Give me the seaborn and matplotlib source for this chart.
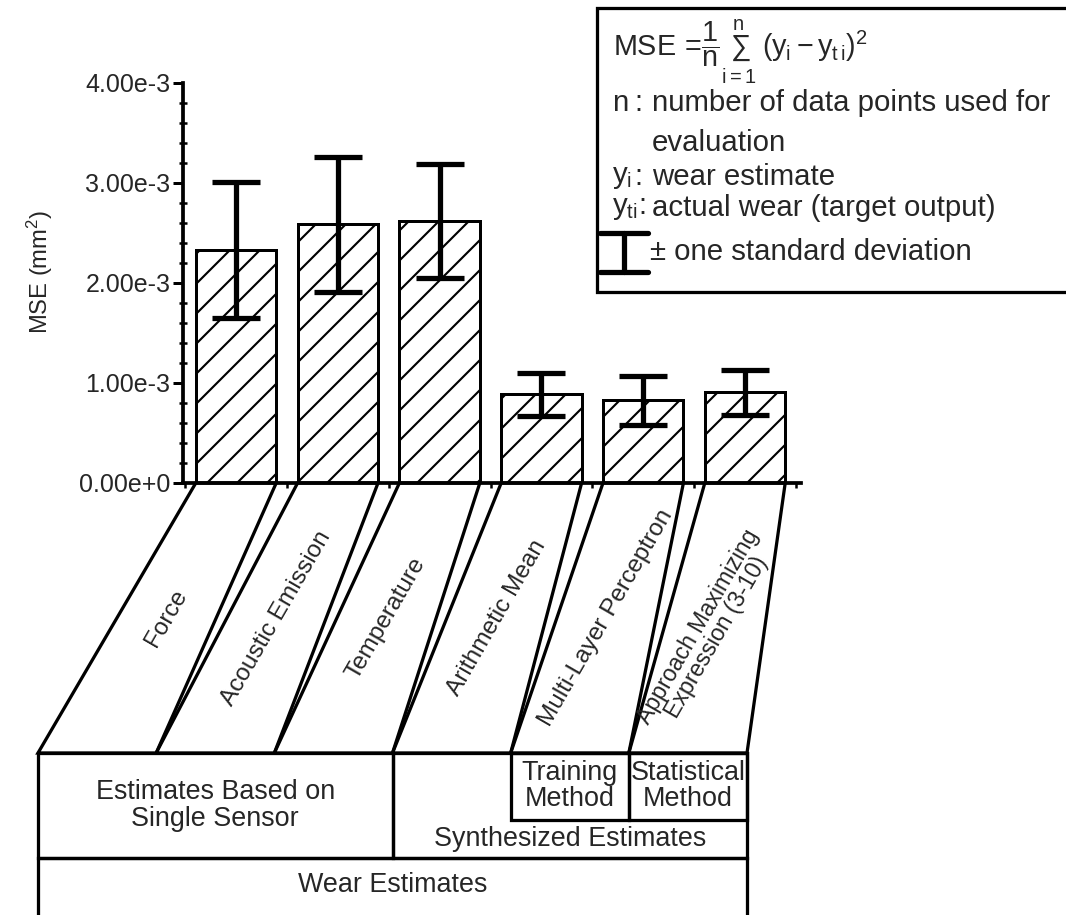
import matplotlib
matplotlib.use("Agg")
import matplotlib.pyplot as plt
import numpy as np
import pandas as pd
import seaborn as sns
from matplotlib.patches import Polygon, Rectangle
from matplotlib.lines import Line2D
from matplotlib.transforms import blended_transform_factory
from matplotlib.ticker import MultipleLocator, FixedLocator

# ---- data -------------------------------------------------------------
categories = [
    "Force",
    "Acoustic Emission",
    "Temperature",
    "Arithmetic Mean",
    "Multi-Layer Perceptron",
    "Approach Maximizing\nExpression (3-10)",
]
mse_mean = [2.33e-3, 2.59e-3, 2.62e-3, 0.89e-3, 0.83e-3, 0.91e-3]
mse_std = [0.68e-3, 0.675e-3, 0.57e-3, 0.215e-3, 0.245e-3, 0.225e-3]

ytick_values = [0.0, 1e-3, 2e-3, 3e-3, 4e-3]
ytick_labels = ["0.00e+0", "1.00e-3", "2.00e-3", "3.00e-3", "4.00e-3"]

group_single = "Estimates Based on\nSingle Sensor"
group_synth = "Synthesized Estimates"
group_training = "Training\nMethod"
group_statistical = "Statistical\nMethod"
group_all = "Wear Estimates"

# ---- style ------------------------------------------------------------
DPI = 90
W, H = 1066, 915
sns.set_theme(style="white")
plt.rcParams["font.family"] = ["Liberation Sans", "DejaVu Sans"]
plt.rcParams["mathtext.fontset"] = "custom"
plt.rcParams["mathtext.rm"] = "Liberation Sans"
plt.rcParams["mathtext.it"] = "Liberation Sans"
plt.rcParams["mathtext.bf"] = "Liberation Sans:bold"
plt.rcParams["hatch.linewidth"] = 1.7
plt.rcParams["hatch.color"] = "black"

fig = plt.figure(figsize=(W / DPI, H / DPI), dpi=DPI)
fig.patch.set_facecolor("white")

# axes in pixels: bar pitch 101.8 px, zero line at y=483, 4e-3 at y=83
PITCH = 101.8
X0 = 236.0
xlim = (-0.52, 5.55)
ax = fig.add_axes([(X0 + xlim[0] * PITCH) / W, 1 - 483 / H,
                   (xlim[1] - xlim[0]) * PITCH / W, 400 / H])

df = pd.DataFrame({"estimate": categories, "mse": mse_mean})
sns.barplot(
    data=df, x="estimate", y="mse", order=categories, ax=ax,
    color="white", saturation=1, width=0.79, errorbar=None,
    edgecolor="black", linewidth=2.4, hatch="/",
)
ax.errorbar(
    np.arange(len(categories)), mse_mean, yerr=mse_std, fmt="none",
    ecolor="black", elinewidth=4.2, capsize=19, capthick=4.2, zorder=5,
)

ax.set_xlim(*xlim)
ax.set_ylim(0, 4e-3)
ax.set_xlabel("")
ax.set_xticks([])
ax.xaxis.set_minor_locator(FixedLocator(np.arange(-0.5, 6.0, 1.0)))
ax.tick_params(axis="x", which="minor", bottom=True, direction="out",
               length=4, width=2, color="black")

ax.set_yticks(ytick_values)
ax.set_yticklabels(ytick_labels)
ax.yaxis.set_minor_locator(MultipleLocator(2e-4))
ax.tick_params(axis="y", which="major", left=True, direction="out",
               length=8, width=2.4, pad=2, labelsize=20, color="black")
ax.tick_params(axis="y", which="minor", left=True, direction="inout",
               length=6, width=2, color="black")
for side in ("top", "right"):
    ax.spines[side].set_visible(False)
for side in ("left", "bottom"):
    ax.spines[side].set_linewidth(3)
    ax.spines[side].set_color("black")

ax.set_ylabel("MSE (mm$^2$)", fontsize=19)
ax.yaxis.set_label_coords(-0.207, 0.527)

# ---- category labels in slanted bands below the axis -------------------
tr = blended_transform_factory(ax.transData, ax.transAxes)
base_left = (38 - X0) / PITCH     # x (data units) where the band row starts
base_step = (747 - 38) / 6 / PITCH
band_bottom = -0.675              # axes fraction
row_bottom = -0.9375
sub_bottom = -0.8425
outer_bottom = -1.15
half_bar = 0.395
lw = 2.6

for k, name in enumerate(categories):
    xb0 = base_left + k * base_step
    xb1 = xb0 + base_step
    poly = Polygon(
        [(k - half_bar, 0), (k + half_bar, 0), (xb1, band_bottom), (xb0, band_bottom)],
        closed=True, facecolor="none", edgecolor="black", linewidth=lw,
        transform=tr, clip_on=False,
    )
    ax.add_patch(poly)
    cx = (k + (xb0 + xb1) / 2) / 2
    cy = band_bottom / 2
    two_line = "\n" in name
    if two_line:
        cx -= 0.09
        cy -= 0.035
    ax.text(cx, cy, name, transform=tr, rotation=60, rotation_mode="anchor",
            ha="center", va="center", fontsize=18.5 if two_line else 19.5,
            linespacing=0.9 if two_line else 1.0)

def box(x0, x1, y0, y1):
    ax.add_patch(Rectangle((x0, y0), x1 - x0, y1 - y0, facecolor="none",
                           edgecolor="black", linewidth=lw, transform=tr,
                           clip_on=False))

b = lambda i: base_left + i * base_step
box(b(0), b(3), row_bottom, band_bottom)
box(b(3), b(6), row_bottom, band_bottom)
box(b(4), b(5), sub_bottom, band_bottom)
box(b(5), b(6), sub_bottom, band_bottom)
box(b(0), b(6), outer_bottom, row_bottom)

ax.text((b(0) + b(3)) / 2, (band_bottom + row_bottom) / 2, group_single,
        transform=tr, ha="center", va="center", fontsize=21.5, linespacing=1.05)
ax.text((b(4) + b(5)) / 2, (band_bottom + sub_bottom) / 2, group_training,
        transform=tr, ha="center", va="center", fontsize=21.5, linespacing=1.0)
ax.text((b(5) + b(6)) / 2, (band_bottom + sub_bottom) / 2, group_statistical,
        transform=tr, ha="center", va="center", fontsize=21.5, linespacing=1.0)
ax.text((b(3) + b(6)) / 2, (sub_bottom + row_bottom) / 2, group_synth,
        transform=tr, ha="center", va="center", fontsize=21.5)
ax.text((b(0) + b(6)) / 2, -1.005, group_all,
        transform=tr, ha="center", va="center", fontsize=21.5)

# ---- explanatory box (upper right) -------------------------------------
def fx(px):
    return px / W

def fy(py):
    return 1 - py / H

fig.add_artist(Rectangle((fx(597), fy(292)), fx(1080) - fx(597), fy(8) - fy(292),
                         transform=fig.transFigure, facecolor="white",
                         edgecolor="black", linewidth=2.6, clip_on=False))

txt = dict(transform=fig.transFigure, fontsize=23.5, va="center", ha="left")
fig.text(fx(613), fy(52),
         r"MSE$\,=\!\dfrac{1}{n}\sum_{i=1}^{n}\;(y_{i}-y_{t\,i})^2$",
         transform=fig.transFigure, fontsize=23, va="center", ha="left")
fig.text(fx(612), fy(103), "n", **txt)
fig.text(fx(634), fy(103), ":", **txt)
fig.text(fx(652), fy(103), "number of data points used for", **txt)
fig.text(fx(652), fy(143), "evaluation", **txt)
fig.text(fx(612), fy(177), "y$_{\\rm i}$", **txt)
fig.text(fx(634), fy(177), ":", **txt)
fig.text(fx(652), fy(177), "wear estimate", **txt)
fig.text(fx(612), fy(208), "y$_{\\rm ti}$:", **txt)
fig.text(fx(652), fy(208), "actual wear (target output)", **txt)
fig.text(fx(650), fy(252), "\u00b1 one standard deviation", **txt)

key = dict(transform=fig.transFigure, color="black", linewidth=4.2)
fig.add_artist(Line2D([fx(624), fx(624)], [fy(233), fy(272)], **key))
fig.add_artist(Line2D([fx(600), fx(648)], [fy(233), fy(233)], **key))
fig.add_artist(Line2D([fx(600), fx(648)], [fy(272), fy(272)], **key))

fig.savefig("out.png", dpi=DPI, facecolor="white")
